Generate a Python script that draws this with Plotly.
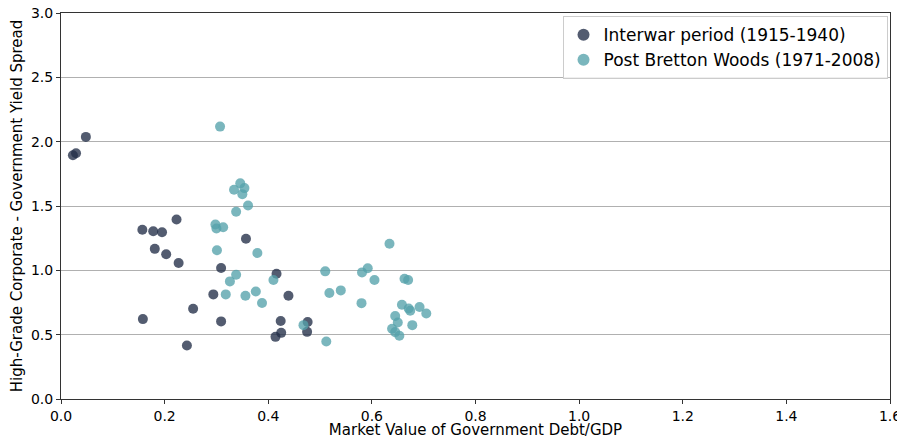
import plotly.graph_objects as go

interwar_x = [0.023, 0.029, 0.048, 0.157, 0.178, 0.195, 0.223, 0.181, 0.203, 0.227,
              0.357, 0.309, 0.416, 0.294, 0.439, 0.255, 0.158, 0.309, 0.424, 0.414,
              0.425, 0.476, 0.475, 0.243]
interwar_y = [1.894, 1.910, 2.037, 1.315, 1.304, 1.296, 1.395, 1.167, 1.125, 1.057,
              1.245, 1.018, 0.974, 0.813, 0.803, 0.701, 0.621, 0.603, 0.606, 0.483,
              0.514, 0.598, 0.522, 0.416]

pbw_x = [0.307, 0.346, 0.334, 0.354, 0.350, 0.361, 0.338, 0.298, 0.300, 0.313,
         0.301, 0.379, 0.338, 0.326, 0.410, 0.318, 0.356, 0.376, 0.388, 0.468,
         0.634, 0.510, 0.581, 0.592, 0.605, 0.663, 0.670, 0.518, 0.540, 0.580,
         0.658, 0.671, 0.674, 0.692, 0.705, 0.645, 0.650, 0.678, 0.639, 0.645,
         0.653, 0.512]
pbw_y = [2.117, 1.676, 1.626, 1.639, 1.592, 1.504, 1.455, 1.356, 1.325, 1.335,
         1.156, 1.135, 0.966, 0.914, 0.925, 0.813, 0.803, 0.836, 0.746, 0.574,
         1.206, 0.992, 0.984, 1.016, 0.925, 0.935, 0.925, 0.824, 0.844, 0.745,
         0.733, 0.704, 0.686, 0.715, 0.665, 0.645, 0.595, 0.574, 0.546, 0.520,
         0.491, 0.447]

x_ticks = [0.0, 0.2, 0.4, 0.6, 0.8, 1.0, 1.2, 1.4, 1.6]
y_ticks = [0.0, 0.5, 1.0, 1.5, 2.0, 2.5, 3.0]

FONT = "DejaVu Sans"

fig = go.Figure()
fig.add_trace(go.Scatter(
    x=interwar_x, y=interwar_y, mode="markers",
    name="Interwar period (1915-1940)",
    marker=dict(size=10, color="rgba(35,46,72,0.78)", line=dict(width=0)),
))
fig.add_trace(go.Scatter(
    x=pbw_x, y=pbw_y, mode="markers",
    name="Post Bretton Woods (1971-2008)",
    marker=dict(size=10, color="rgba(85,162,170,0.78)", line=dict(width=0)),
))

# page body has an 8px default margin, so the figure is 8px smaller
fig.update_layout(
    width=897, height=431,
    margin=dict(l=53, r=15, t=5, b=40, autoexpand=False),
    paper_bgcolor="white", plot_bgcolor="white",
    font=dict(family=FONT, size=14, color="black"),
    showlegend=True,
    legend=dict(
        x=0.997, y=0.992, xanchor="right", yanchor="top",
        bordercolor="#cccccc", borderwidth=1, bgcolor="rgba(255,255,255,0.8)",
        font=dict(family=FONT, size=17, color="black"),
        itemsizing="constant", tracegroupgap=0,
    ),
    xaxis=dict(
        range=[0, 1.6], tickvals=x_ticks,
        ticktext=[f"{v:.1f}" for v in x_ticks],
        showgrid=False, zeroline=False, automargin=False,
        ticklabeloverflow="allow",
        showline=True, linecolor="#333333", linewidth=1, mirror=True,
        ticks="outside", ticklen=4, tickcolor="#333333",
        title=dict(text="Market Value of Government Debt/GDP", standoff=2,
                   font=dict(family=FONT, size=15)),
        tickfont=dict(family=FONT, size=14),
    ),
    yaxis=dict(
        range=[0, 3.0], tickvals=y_ticks,
        ticktext=[f"{v:.1f}" for v in y_ticks],
        showgrid=True, gridcolor="#b0b0b0", gridwidth=1, zeroline=False,
        automargin=False, ticklabeloverflow="allow",
        showline=True, linecolor="#333333", linewidth=1, mirror=True,
        ticks="outside", ticklen=4, tickcolor="#333333",
        title=dict(text="High-Grade Corporate - Government Yield Spread", standoff=6,
                   font=dict(family=FONT, size=15)),
        tickfont=dict(family=FONT, size=14),
    ),
)

fig.write_html("out.html")
